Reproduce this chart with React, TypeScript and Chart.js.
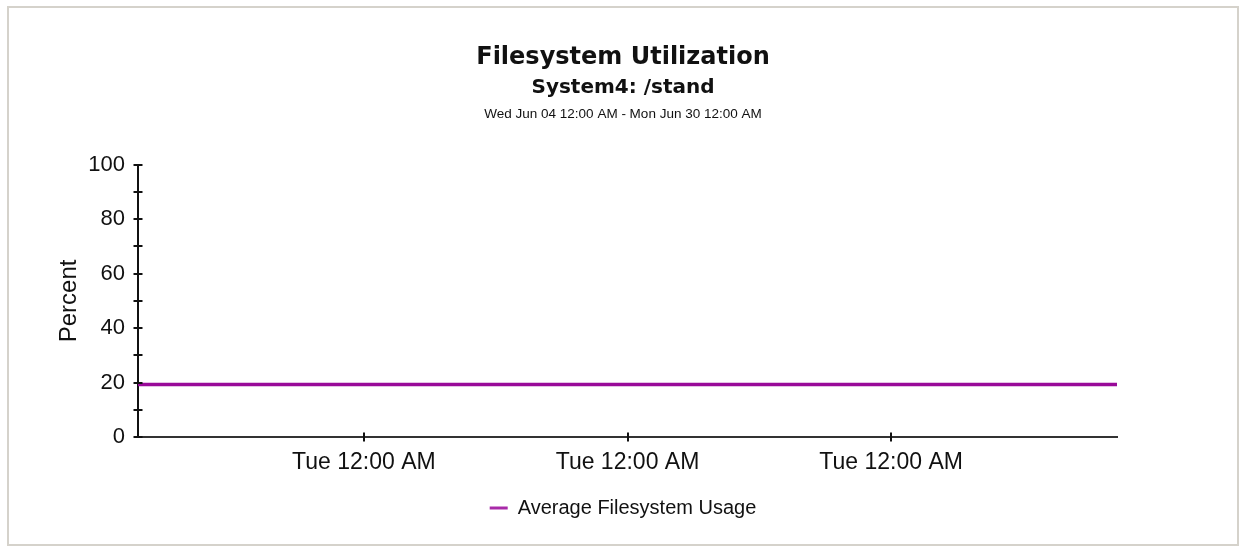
import React, { useEffect, useRef } from 'react';
import { Chart, registerables } from 'chart.js';

Chart.register(...registerables);

const TITLE = 'Filesystem Utilization';
const SUBTITLE = 'System4: /stand';
const DATE_RANGE = 'Wed Jun 04 12:00 AM - Mon Jun 30 12:00 AM';
const SERIES_LABEL = 'Average Filesystem Usage';
const Y_TITLE = 'Percent';

// x values: days since Wed Jun 04 12:00 AM (range ends Mon Jun 30 12:00 AM)
const sampleDays = [0, 26];
const usageValues = [19.3, 19.3];
const xTickDays = [6, 13, 20];
const xTickLabels = ['Tue 12:00 AM', 'Tue 12:00 AM', 'Tue 12:00 AM'];
const yMajorLabels = [0, 20, 40, 60, 80, 100];

const SANS = '"Liberation Sans", Arial, sans-serif';
const WIDE = '"DejaVu Sans", Verdana, sans-serif';

const crossTicks = {
  id: 'crossTicks',
  afterDraw(chart: any) {
    const { ctx } = chart;
    const xs = chart.scales.x;
    const ys = chart.scales.y;
    ctx.save();
    ctx.strokeStyle = '#111';
    ctx.lineWidth = 2;
    ys.ticks.forEach((t: any) => {
      const py = Math.round(ys.getPixelForValue(t.value));
      ctx.beginPath();
      ctx.moveTo(ys.right - 4.5, py);
      ctx.lineTo(ys.right + 4.5, py);
      ctx.stroke();
    });
    xs.ticks.forEach((t: any) => {
      const px = Math.round(xs.getPixelForValue(t.value));
      ctx.beginPath();
      ctx.moveTo(px, xs.top - 4.5);
      ctx.lineTo(px, xs.top + 4.5);
      ctx.stroke();
    });
    ctx.restore();
  },
};

const dateLine = {
  id: 'dateLine',
  afterDraw(chart: any) {
    const { ctx } = chart;
    ctx.save();
    ctx.font = '13.5px ' + SANS;
    ctx.fillStyle = '#111';
    ctx.textAlign = 'center';
    ctx.textBaseline = 'middle';
    ctx.fillText(DATE_RANGE, chart.width / 2, 106);
    ctx.restore();
  },
};

export default function App() {
  const ref = useRef<HTMLCanvasElement | null>(null);

  useEffect(() => {
    if (!ref.current) return;
    const chart = new Chart(ref.current, {
      type: 'line',
      data: {
        datasets: [
          {
            label: SERIES_LABEL,
            data: sampleDays.map((d, i) => ({ x: d, y: usageValues[i] })),
            borderColor: '#990a99',
            backgroundColor: '#a82aa8',
            borderWidth: 3.5,
            pointRadius: 0,
            tension: 0,
            yAxisID: 'y',
          },
        ],
      },
      options: {
        responsive: false,
        animation: false,
        devicePixelRatio: 1,
        layout: { padding: { left: 0, right: 0, top: 0, bottom: 16 } },
        plugins: {
          title: {
            display: true,
            text: TITLE,
            color: '#111',
            font: { family: WIDE, size: 24, weight: 'bold' },
            padding: { top: 35, bottom: 4 },
          },
          subtitle: {
            display: true,
            text: SUBTITLE,
            color: '#111',
            font: { family: WIDE, size: 20, weight: 'bold' },
            padding: { top: 0, bottom: 65 },
          },
          legend: {
            display: true,
            position: 'bottom',
            labels: {
              color: '#111',
              font: { family: SANS, size: 20 },
              boxWidth: 18,
              boxHeight: 3,
              padding: 10,
              generateLabels: (c: any) =>
                Chart.defaults.plugins.legend.labels.generateLabels(c).map((l: any) => ({
                  ...l,
                  lineWidth: 0,
                  fillStyle: '#a82aa8',
                  strokeStyle: 'rgba(0,0,0,0)',
                })),
            },
          },
          tooltip: { enabled: false },
        },
        scales: {
          x: {
            type: 'linear',
            min: 0,
            max: 26,
            afterBuildTicks: (s: any) => {
              s.ticks = xTickDays.map((v) => ({ value: v }));
            },
            afterFit: (s: any) => {
              s.height = 51;
            },
            ticks: {
              autoSkip: false,
              maxRotation: 0,
              padding: 12,
              color: '#111',
              font: { family: SANS, size: 23 },
              callback: (_v: any, i: number) => xTickLabels[i],
            },
            grid: { display: false, drawTicks: false },
            border: { display: true, color: '#333', width: 2 },
          },
          y: {
            type: 'linear',
            position: 'left',
            min: 0,
            max: 100,
            afterFit: (s: any) => {
              s.width = 129;
            },
            ticks: {
              stepSize: 10,
              autoSkip: false,
              padding: 13,
              color: '#111',
              font: { family: SANS, size: 22 },
              callback: (v: any) => (yMajorLabels.includes(Number(v)) ? String(v) : ''),
            },
            grid: { display: false, drawTicks: false },
            border: { display: true, color: '#111', width: 2 },
            title: {
              display: true,
              text: Y_TITLE,
              color: '#111',
              font: { family: SANS, size: 24 },
              padding: { top: 46, bottom: 0 },
            },
          },
          yRight: {
            type: 'linear',
            position: 'right',
            display: true,
            afterFit: (s: any) => {
              s.width = 120;
            },
            ticks: { display: false },
            grid: { display: false, drawTicks: false },
            border: { display: false },
          },
        },
      } as any,
      plugins: [crossTicks, dateLine],
    });
    return () => chart.destroy();
  }, []);

  return (
    <div
      style={{
        position: 'absolute',
        left: 7,
        top: 6,
        width: 1232,
        height: 540,
        boxSizing: 'border-box',
        border: '2px solid #d5d2cb',
        background: '#fff',
      }}
    >
      <canvas ref={ref} width={1228} height={536} style={{ display: 'block', width: 1228, height: 536 }} />
    </div>
  );
}
